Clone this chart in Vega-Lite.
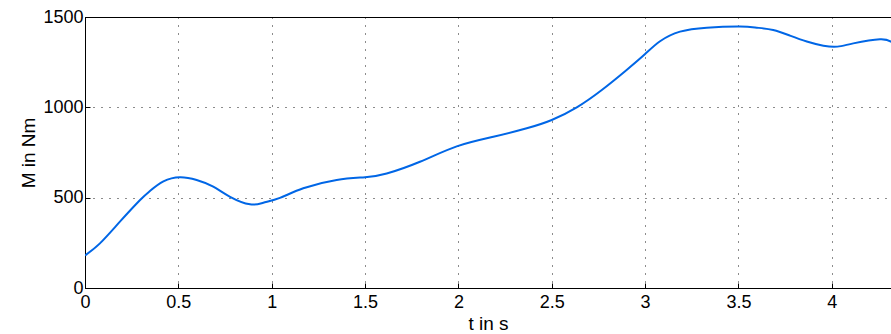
{
  "$schema": "https://vega.github.io/schema/vega-lite/v6.json",
  "width": 806,
  "height": 271,
  "autosize": {"type": "none"},
  "padding": {"left": 85, "top": 17, "right": 0, "bottom": 46},
  "background": "white",
  "config": {
    "view": {"stroke": "black", "strokeWidth": 1},
    "font": "Liberation Sans",
    "axis": {
      "labelFont": "Liberation Sans",
      "titleFont": "Liberation Sans",
      "labelFontSize": 18,
      "titleFontSize": 19,
      "titleFontWeight": "normal",
      "labelColor": "black",
      "titleColor": "black",
      "domainColor": "black",
      "tickColor": "black",
      "tickSize": -5,
      "grid": true,
      "gridColor": "black",
      "gridDash": [1, 7],
      "gridOpacity": 0.9
    }
  },
  "data": {
    "values": [
      {"t": 0.0, "M": 180},
      {"t": 0.08, "M": 247},
      {"t": 0.187, "M": 367},
      {"t": 0.295, "M": 487},
      {"t": 0.348, "M": 537},
      {"t": 0.42, "M": 590},
      {"t": 0.509, "M": 613},
      {"t": 0.598, "M": 598},
      {"t": 0.687, "M": 561},
      {"t": 0.777, "M": 505},
      {"t": 0.884, "M": 463},
      {"t": 0.955, "M": 472},
      {"t": 1.044, "M": 499},
      {"t": 1.169, "M": 552},
      {"t": 1.348, "M": 598},
      {"t": 1.5, "M": 613},
      {"t": 1.616, "M": 634},
      {"t": 1.794, "M": 699},
      {"t": 1.991, "M": 784},
      {"t": 2.187, "M": 837},
      {"t": 2.366, "M": 884},
      {"t": 2.5, "M": 930},
      {"t": 2.634, "M": 1000},
      {"t": 2.768, "M": 1096},
      {"t": 2.901, "M": 1207},
      {"t": 3.0, "M": 1295},
      {"t": 3.08, "M": 1366},
      {"t": 3.187, "M": 1419},
      {"t": 3.33, "M": 1441},
      {"t": 3.508, "M": 1447},
      {"t": 3.598, "M": 1441},
      {"t": 3.686, "M": 1428},
      {"t": 3.776, "M": 1397},
      {"t": 3.866, "M": 1364},
      {"t": 3.955, "M": 1341},
      {"t": 4.03, "M": 1336},
      {"t": 4.115, "M": 1354},
      {"t": 4.258, "M": 1377},
      {"t": 4.32, "M": 1362}
    ]
  },
  "mark": {"type": "line", "color": "#0066e6", "strokeWidth": 2, "interpolate": "natural", "clip": true},
  "encoding": {
    "x": {
      "field": "t",
      "type": "quantitative",
      "scale": {"domain": [0, 4.317], "nice": false, "zero": false},
      "axis": {"values": [0, 0.5, 1, 1.5, 2, 2.5, 3, 3.5, 4], "format": "~g", "title": "t in s", "labelPadding": 10, "titlePadding": 3, "labelFlush": false}
    },
    "y": {
      "field": "M",
      "type": "quantitative",
      "scale": {"domain": [0, 1500], "nice": false},
      "axis": {"values": [0, 500, 1000, 1500], "format": "d", "title": "M in Nm", "labelPadding": 7, "titlePadding": 4}
    }
  }
}
